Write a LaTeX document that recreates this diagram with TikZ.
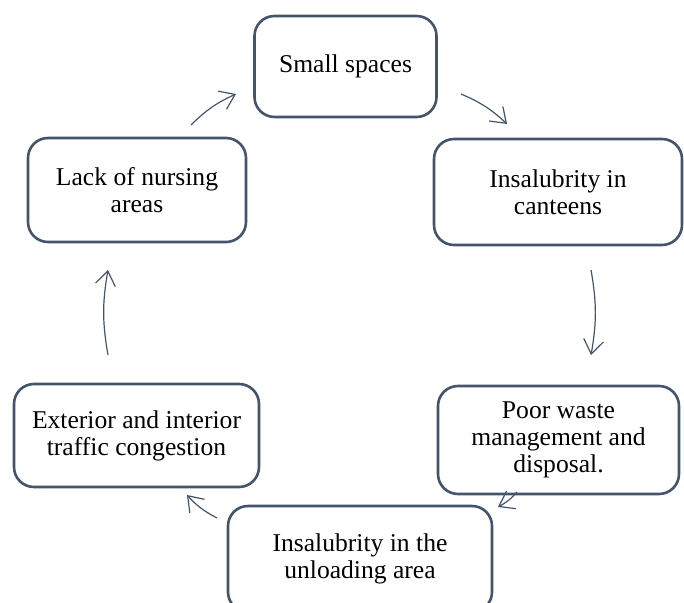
\documentclass[tikz,border=0pt]{standalone}
\usepackage{fontspec}
\setmainfont{Liberation Serif}
\usetikzlibrary{arrows.meta}
\definecolor{slate}{HTML}{44546A}
\tikzset{
  cbox/.style={draw=slate, line width=1.3pt, rounded corners=10pt, fill=white, align=center, inner sep=0pt, font=\fontsize{12.8pt}{13.5pt}\selectfont},
  carr/.style={draw=slate, line width=0.6pt, -{Straight Barb[length=7pt,width=10pt]}, bend left=10},
}

\begin{document}
\begin{tikzpicture}[x=0.5pt,y=-0.5pt]
		\useasboundingbox (0,0) rectangle (684,603);
		\clip (0,0) rectangle (684,603);
		
		\node[cbox, minimum width=91pt, minimum height=50.5pt] (small) at (345.5,66.5) {Small spaces};
		\node[cbox, minimum width=124pt, minimum height=53pt] (canteen) at (558,192) {Insalubrity in\\canteens};
		\node[cbox, minimum width=120.5pt, minimum height=54pt] (waste) at (558.5,440) {Poor waste\\management and\\disposal.};
		\node[cbox, minimum width=132pt, minimum height=53pt] (unload) at (360,559) {Insalubrity in the\\unloading area};
		\node[cbox, minimum width=122.5pt, minimum height=51.5pt] (traffic) at (136.5,435.5) {Exterior and interior\\traffic congestion};
		\node[cbox, minimum width=109pt, minimum height=52pt] (nursing) at (137,190) {Lack of nursing\\areas};
		
		\coordinate (nu-s) at (191,125); \coordinate (nu-e) at (236,94);
		\coordinate (sm-s) at (461,94); \coordinate (sm-e) at (507,124);
		\coordinate (ca-s) at (591,270); \coordinate (ca-e) at (591,355);
		\coordinate (wa-s) at (517,492); \coordinate (wa-e) at (498,507);
		\coordinate (un-s) at (217,518); \coordinate (un-e) at (187,495);
		\coordinate (tr-s) at (108,355); \coordinate (tr-e) at (108,270);
		
		\draw[carr] (nu-s) to (nu-e);
		\draw[carr] (sm-s) to (sm-e);
		\draw[carr] (ca-s) to (ca-e);
		\draw[carr] (wa-s) to (wa-e);
		\draw[carr] (un-s) to (un-e);
		\draw[carr] (tr-s) to (tr-e);
	\end{tikzpicture}
\end{document}
